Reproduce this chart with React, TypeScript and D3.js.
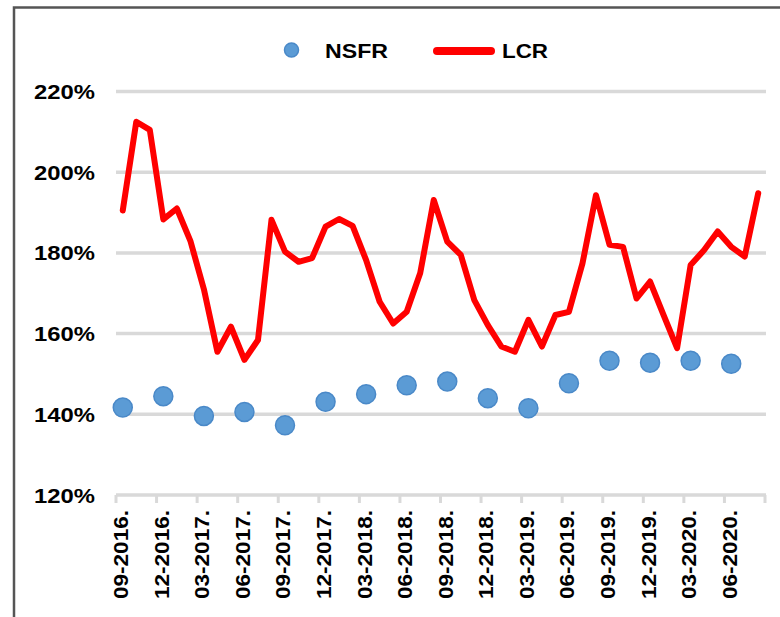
import React from "react";
import * as d3 from "d3";

const months: string[] = [
  "09-2016", "10-2016", "11-2016", "12-2016", "01-2017", "02-2017", "03-2017", "04-2017",
  "05-2017", "06-2017", "07-2017", "08-2017", "09-2017", "10-2017", "11-2017", "12-2017",
  "01-2018", "02-2018", "03-2018", "04-2018", "05-2018", "06-2018", "07-2018", "08-2018",
  "09-2018", "10-2018", "11-2018", "12-2018", "01-2019", "02-2019", "03-2019", "04-2019",
  "05-2019", "06-2019", "07-2019", "08-2019", "09-2019", "10-2019", "11-2019", "12-2019",
  "01-2020", "02-2020", "03-2020", "04-2020", "05-2020", "06-2020", "07-2020", "08-2020",
];

const lcrValues: number[] = [
  190.5, 212.5, 210.5, 188.3, 191, 183, 171, 155.5,
  161.7, 153.5, 158.4, 188.2, 180.3, 177.8, 178.7, 186.5,
  188.4, 186.7, 178.2, 167.9, 162.5, 165.4, 175, 193.1,
  182.8, 179.5, 168.3, 162.1, 156.8, 155.5, 163.4, 156.8,
  164.6, 165.4, 177.4, 194.3, 182.0, 181.5, 168.7, 172.9,
  164.6, 156.4, 177.0, 180.7, 185.3, 181.5, 179.1, 194.8,
];

const nsfrMonths: string[] = [
  "09-2016", "12-2016", "03-2017", "06-2017", "09-2017", "12-2017", "03-2018", "06-2018",
  "09-2018", "12-2018", "03-2019", "06-2019", "09-2019", "12-2019", "03-2020", "06-2020",
];
const nsfrValues: number[] = [
  141.7, 144.5, 139.6, 140.6, 137.3, 143.1, 145.0, 147.2,
  148.1, 144.0, 141.5, 147.7, 153.3, 152.8, 153.3, 152.5,
];

const tickLabels: string[] = nsfrMonths.map((m) => m + ".");
const yTicks: number[] = [120, 140, 160, 180, 200, 220];

const W = 780;
const H = 617;
const FONT = "'Liberation Sans', Arial, sans-serif";

export default function App() {
  const x = d3.scaleBand<string>().domain(months).range([116, 765]).padding(0);
  const y = d3.scaleLinear().domain([120, 220]).range([495, 91.5]);
  const cx = (m: string) => (x(m) as number) + x.bandwidth() / 2;

  const line = d3
    .line<number>()
    .x((_, i) => cx(months[i]))
    .y((d) => y(d))
    .curve(d3.curveLinear);

  const tickIdx = months.map((_, i) => i).filter((i) => i % 3 === 0);
  const tickXs = tickIdx.map((i) => x(months[i]) as number).concat([765]);

  return (
    <svg
      width={W}
      height={H}
      style={{ position: "absolute", left: 0, top: 0, background: "#fff" }}
    >
      <rect x={0} y={0} width={W} height={H} fill="#fff" />
      {/* frame */}
      <rect x={14} y={7.5} width={800} height={700} fill="none" stroke="#555" strokeWidth={2.5} />

      {/* gridlines */}
      {yTicks.map((t) => (
        <line key={t} x1={116} x2={766} y1={y(t)} y2={y(t)} stroke="#D9D9D9" strokeWidth={3.5} />
      ))}
      {/* x tick marks */}
      {tickXs.map((tx, i) => (
        <line key={i} x1={tx} x2={tx} y1={y(120)} y2={y(120) + 8} stroke="#D9D9D9" strokeWidth={3} />
      ))}

      {/* y labels */}
      {yTicks.map((t) => (
        <text
          key={t}
          x={95}
          y={y(t)}
          dy="0.36em"
          textAnchor="end"
          fontFamily={FONT}
          fontWeight="bold"
          fontSize={21}
          textLength={61}
          lengthAdjust="spacingAndGlyphs"
          fill="#000"
        >
          {t}%
        </text>
      ))}

      {/* x labels */}
      {tickIdx.map((i, k) => {
        const lx = (x(months[i]) as number) + 5;
        const ly = 510;
        return (
          <text
            key={i}
            transform={`translate(${lx},${ly}) rotate(-90)`}
            dy="0.36em"
            textAnchor="end"
            fontFamily={FONT}
            fontWeight="bold"
            fontSize={20}
            textLength={89}
            lengthAdjust="spacingAndGlyphs"
            fill="#000"
          >
            {tickLabels[k]}
          </text>
        );
      })}

      {/* LCR line */}
      <path
        d={line(lcrValues) || ""}
        fill="none"
        stroke="#FF0000"
        strokeWidth={6}
        strokeLinejoin="round"
        strokeLinecap="round"
      />

      {/* NSFR points */}
      {nsfrValues.map((v, i) => (
        <circle
          key={i}
          cx={cx(nsfrMonths[i])}
          cy={y(v)}
          r={9.5}
          fill="#5B9BD5"
          stroke="#4A89C8"
          strokeWidth={1.5}
        />
      ))}

      {/* legend */}
      <circle cx={291.5} cy={50} r={7} fill="#5B9BD5" stroke="#4A89C8" strokeWidth={1.5} />
      <text
        x={325}
        y={50}
        dy="0.36em"
        fontFamily={FONT}
        fontWeight="bold"
        fontSize={21}
        textLength={63}
        lengthAdjust="spacingAndGlyphs"
        fill="#000"
      >
        NSFR
      </text>
      <line x1={437} x2={491} y1={51} y2={51} stroke="#FF0000" strokeWidth={8} strokeLinecap="round" />
      <text
        x={502}
        y={50}
        dy="0.36em"
        fontFamily={FONT}
        fontWeight="bold"
        fontSize={21}
        textLength={46}
        lengthAdjust="spacingAndGlyphs"
        fill="#000"
      >
        LCR
      </text>
    </svg>
  );
}
